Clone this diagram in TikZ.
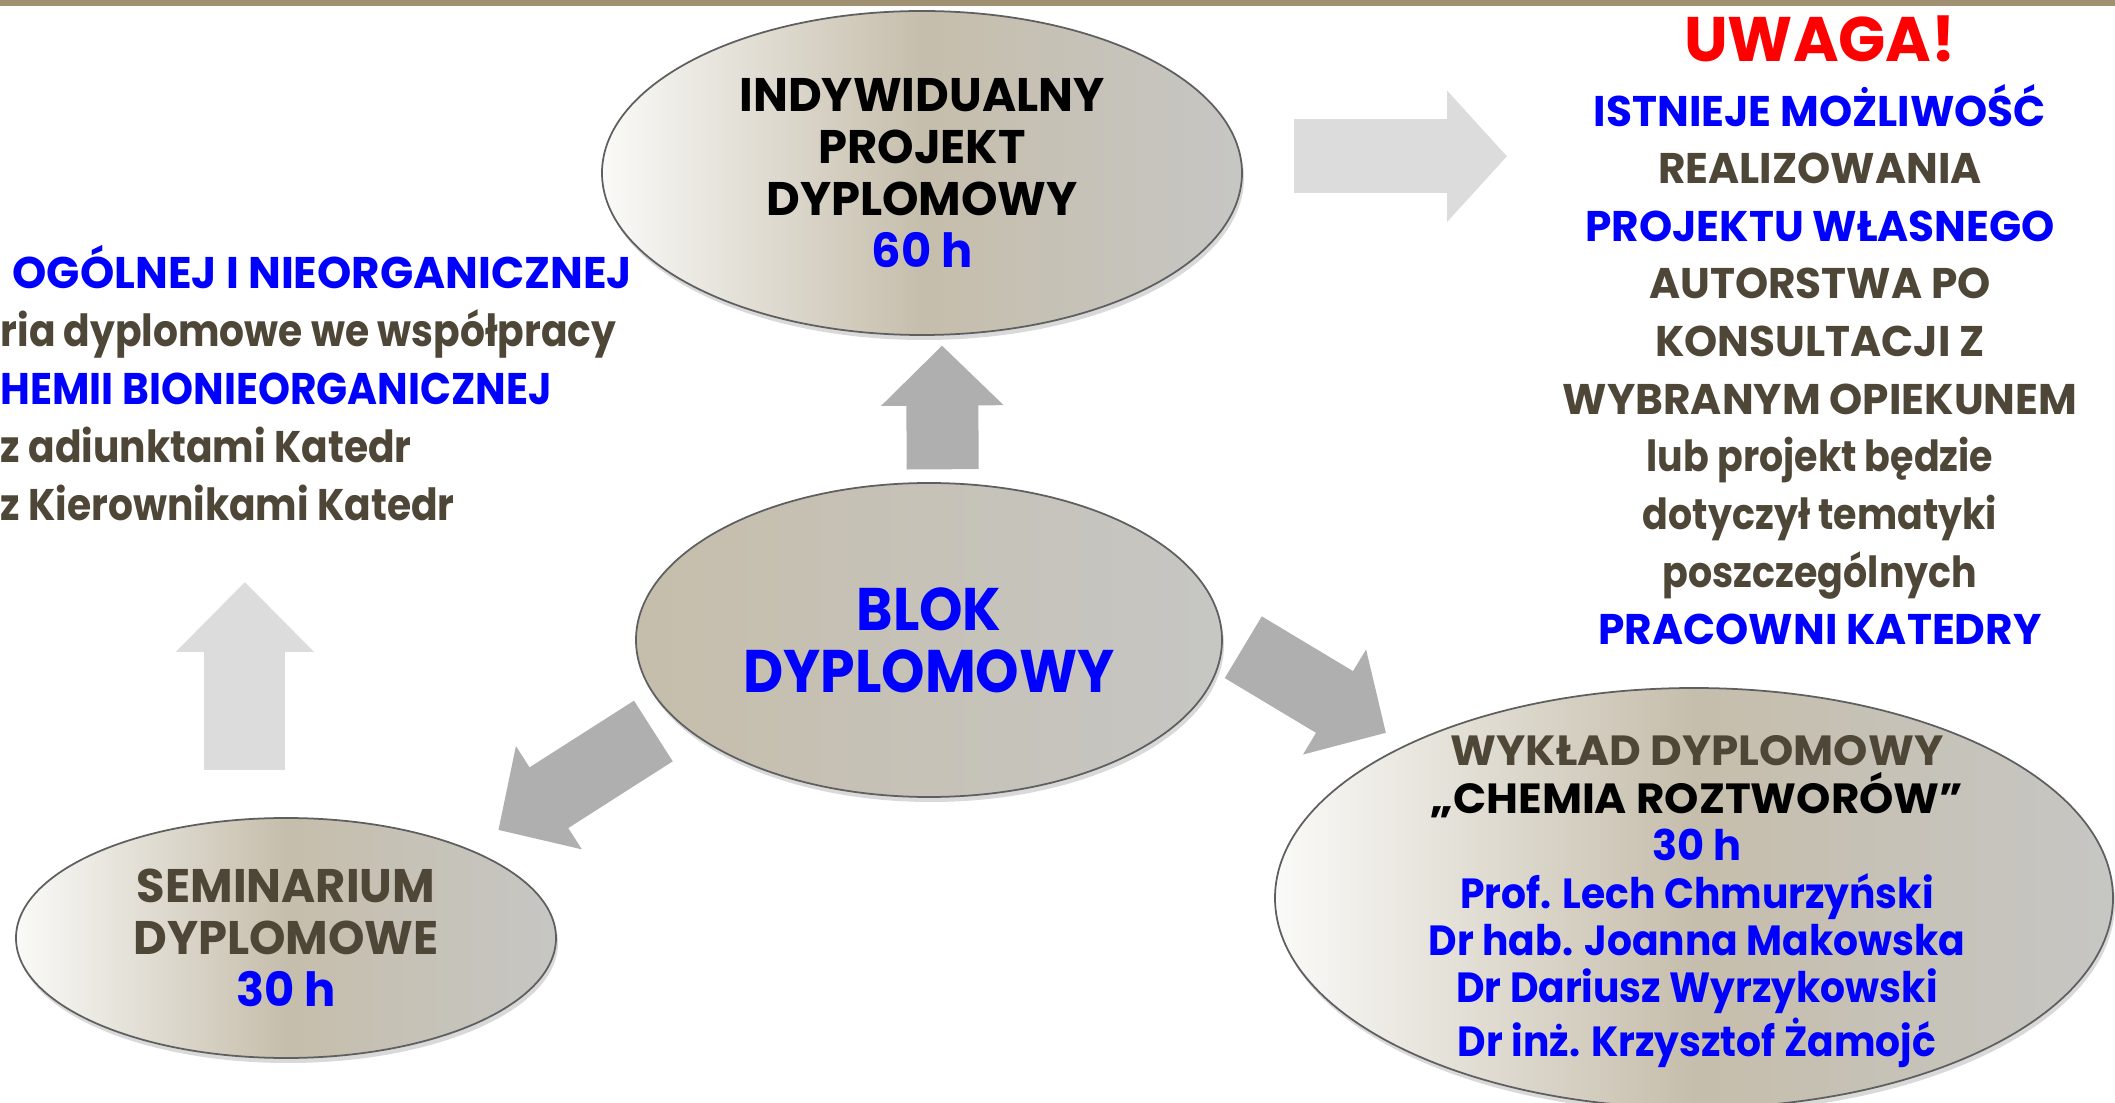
\documentclass[tikz,border=0pt]{standalone}
\usepackage{fontspec}
\setmainfont{Poppins}[FakeStretch=0.985]
\newfontfamily\lowfont{Poppins}[FakeStretch=0.885]
\newfontfamily\namefont{Poppins}[FakeStretch=0.93]
\newfontfamily\hubfont{Poppins}[FakeStretch=0.92]
\newfontfamily\widefont{Poppins}[FakeStretch=1.035]
\usepackage{xcolor}
\usepackage{tikz}
\usetikzlibrary{positioning,shadows,shapes.geometric,arrows.meta}
\definecolor{barkhaki}{RGB}{160,145,115}
\definecolor{darkbrown}{RGB}{78,70,55}
\definecolor{pureblue}{RGB}{0,0,255}
\definecolor{purered}{RGB}{255,0,0}
\definecolor{shadewhite}{RGB}{250,250,248}
\definecolor{shadetan}{RGB}{198,190,172}
\definecolor{shadegray}{RGB}{198,198,195}
\definecolor{rimgray}{RGB}{95,95,95}
\definecolor{arrowgray}{RGB}{175,175,175}
\definecolor{arrowlight}{RGB}{220,220,220}

\begin{document}
\begin{tikzpicture}[
    every node/.style={align=center, inner sep=0pt},
    bubble/.style={ellipse, draw=rimgray, line width=0.5pt, left color=shadewhite, right color=shadegray, middle color=shadetan, drop shadow={shadow xshift=0.02cm, shadow yshift=-0.05cm, opacity=0.3}},
    hub/.style={ellipse, draw=rimgray, line width=0.5pt, left color=shadetan, right color=shadegray, drop shadow={shadow xshift=0.02cm, shadow yshift=-0.05cm, opacity=0.3}},
    bigtext/.style={font=\bfseries\fontsize{13.4}{14.8}\selectfont},
    hubtext/.style={font=\hubfont\bfseries\fontsize{17.1}{17.6}\selectfont, text=pureblue},
    lecturetext/.style={font=\bfseries\fontsize{12}{13.5}\selectfont, text=pureblue},
    notetext/.style={font=\bfseries\fontsize{12.2}{16.4}\selectfont, text=darkbrown},
    sidetext/.style={font=\bfseries\fontsize{12.6}{16.5}\selectfont, text=darkbrown},
    arrow/.style={draw=arrowgray, line width=0.72cm, -{Triangle[length=0.60cm, width=1.19cm]}},
    lightarrow/.style={draw=arrowlight, line width=0.74cm, -{Triangle[length=0.60cm, width=1.28cm]}},
    lightup/.style={draw=arrowlight, line width=0.81cm, -{Triangle[length=0.70cm, width=1.34cm]}}
]
    \useasboundingbox (0,0) rectangle (21.15,11.02);
    \clip (0,0) rectangle (21.15,11.02);
    \fill[barkhaki] (0,10.96) rectangle (21.15,11.02);

    % Centre
    \node[hub, hubtext, minimum width=5.86cm, minimum height=3.14cm] (blok) at (9.29,4.62) {BLOK\\DYPLOMOWY};

    % Around the centre
    \node[bubble, bigtext, minimum width=6.40cm, minimum height=3.24cm] (projekt) at (9.22,9.29) {INDYWIDUALNY\\PROJEKT\\DYPLOMOWY\\{\color{pureblue}60 h}};
    \node[bubble, bigtext, text=darkbrown, minimum width=5.40cm, minimum height=2.40cm] (seminarium) at (2.86,1.64) {SEMINARIUM\\DYPLOMOWE\\{\color{pureblue}30 h}};
    \node[bubble, minimum width=8.38cm, minimum height=4.20cm] (wyklad) at (16.94,2.04) {};
    \node[lecturetext, anchor=north] (wykladtxt) at (16.97,3.67) {{\widefont\color{darkbrown}WYKŁAD DYPLOMOWY}\\
        {\widefont\color{black}„CHEMIA ROZTWORÓW”}\\
        30 h\\
        {\namefont Prof. Lech Chmurzyński}\\
        {\namefont Dr hab. Joanna Makowska}\\
        {\namefont Dr Dariusz Wyrzykowski}\\
        {\namefont Dr inż. Krzysztof Żamojć}};

    % Side texts
    \node[notetext, anchor=north] (uwaga) at (18.20,10.87) {{\color{purered}\fontsize{17.9}{20}\selectfont UWAGA!}\\[0.07cm]
        {\color{pureblue}ISTNIEJE MOŻLIWOŚĆ}\\
        REALIZOWANIA\\
        {\color{pureblue}PROJEKTU WŁASNEGO}\\
        AUTORSTWA PO\\
        KONSULTACJI Z\\
        WYBRANYM OPIEKUNEM\\
        {\lowfont lub projekt będzie}\\
        {\lowfont dotyczył tematyki}\\
        {\lowfont poszczególnych}\\
        {\color{pureblue}PRACOWNI KATEDRY}};
    \node[sidetext, anchor=north west, align=left] (katedry) at (0,8.57) {\hspace*{0.12cm}{\color{pureblue}OGÓLNEJ I NIEORGANICZNEJ}\\
        {\lowfont ria dyplomowe we współpracy}\\
        {\hubfont\color{pureblue}HEMII BIONIEORGANICZNEJ}\\
        {\lowfont z adiunktami Katedr}\\
        {\lowfont z Kierownikami Katedr}};

    % Arrows
    \draw[arrow, shorten <=0.13cm, shorten >=0.10cm] (blok.85) -- (projekt.-83);
    \draw[arrow, shorten <=0.24cm, shorten >=0.23cm] (blok.1) -- (wyklad.152);
    \draw[arrow, shorten <=0.24cm, shorten >=0.35cm] (blok.197) -- (seminarium.26);
    \draw[lightarrow, shorten <=0.53cm, shorten >=0.55cm] (projekt.3) -- (projekt.3 -| uwaga.west);
    \draw[lightup, shorten <=0.49cm, shorten >=0.60cm] (seminarium.109) -- (seminarium.109 |- katedry.south);

\end{tikzpicture}
\end{document}
